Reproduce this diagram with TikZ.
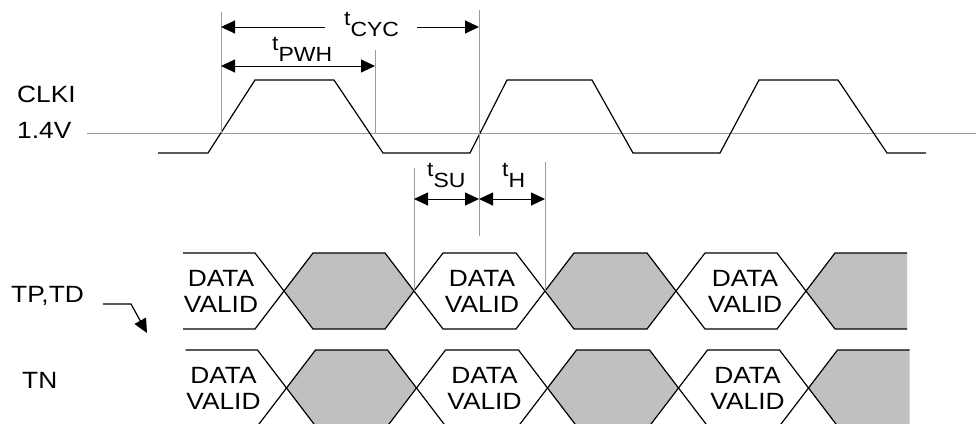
\documentclass[tikz,border=0pt]{standalone}
\usepackage{fontspec}
\setmainfont[FakeStretch=1.12]{Liberation Sans}
\usepackage{tikz}
\usetikzlibrary{arrows.meta}

\definecolor{guidegray}{RGB}{155,155,155}
\definecolor{busgray}{RGB}{192,192,192}

\tikzset{
    wave/.style={line width=1.2pt, black},
    guide/.style={line width=1pt, guidegray},
    dim/.style={line width=1pt, {Triangle[length=14pt,width=13pt]}-{Triangle[length=14pt,width=13pt]}},
    halfdim/.style={line width=1pt, -{Triangle[length=14pt,width=13pt]}},
    signame/.style={anchor=base west, inner sep=0, font=\fontsize{23.5}{26}\selectfont},
    tlabel/.style={anchor=base west, inner sep=0, font=\fontsize{20.5}{21}\selectfont},
    validtext/.style={align=center, inner sep=0, font=\fontsize{23.5}{26}\selectfont}
}

\newcommand{\tsub}[1]{t\raisebox{-11pt}{#1}}

% one bus row: #1 middle y, #2 x shift, #3 name prefix
\newcommand{\datarow}[3]{
    \begin{scope}[shift={(#2,#1)}]
        \fill[busgray] (284,0) -- (313,-38) -- (385,-38) -- (414,0) -- (385,38) -- (313,38) -- cycle;
        \fill[busgray] (545,0) -- (574,-38) -- (647,-38) -- (676,0) -- (647,38) -- (574,38) -- cycle;
        \fill[busgray] (806,0) -- (835,-38) -- (907,-38) -- (907,38) -- (835,38) -- cycle;
        \draw[wave] (183,-38) -- (255,-38) -- (313,38) -- (385,38) -- (443,-38) -- (516,-38) -- (574,38)
            -- (647,38) -- (705,-38) -- (777,-38) -- (835,38) -- (907,38);
        \draw[wave] (183,38) -- (255,38) -- (313,-38) -- (385,-38) -- (443,38) -- (516,38) -- (574,-38)
            -- (647,-38) -- (705,38) -- (777,38) -- (835,-38) -- (907,-38);
        \coordinate (#3x1) at (414,0);
        \coordinate (#3x2) at (545,0);
        \node[validtext] (#3a) at (221,0) {DATA\\VALID};
        \node[validtext] (#3b) at (482,0) {DATA\\VALID};
        \node[validtext] (#3c) at (745,0) {DATA\\VALID};
    \end{scope}
}

\begin{document}
\begin{tikzpicture}[x=1pt,y=-1pt]
    \useasboundingbox (0,0) rectangle (976,423);

    % signal names
    \node[signame] (clkiname) at (17,102) {CLKI};
    \node[signame] (voltname) at (17,138) {1.4V};
    \node[signame] (tptdname) at (11,302) {TP,TD};
    \node[signame] (tnname) at (22,388) {TN};

    % threshold and clock
    \coordinate (thrstart) at (87,133);
    \coordinate (thrend) at (976,133);
    \draw[guide] (thrstart) -- (thrend);
    \draw[wave] (158,153) -- (208,153) -- (255,80) -- (334,80) -- (383,153) -- (470,153) -- (507,80)
        -- (592,80) -- (633,153) -- (720,153) -- (759,80) -- (838,80) -- (887,153) -- (926,153);

    % data buses
    \datarow{291}{0}{tpbus}
    \datarow{388}{2.5}{tnbus}

    % guide lines
    \coordinate (rise1) at (221,133);
    \coordinate (fall1) at (375,133);
    \coordinate (rise2) at (479,133);
    \coordinate (rise1top) at (221,12);
    \coordinate (fall1top) at (375,50);
    \coordinate (rise2top) at (479,10);
    \coordinate (rise2end) at (479,236);
    \coordinate (sutop) at (414,168);
    \coordinate (holdtop) at (545,162);
    \draw[guide] (rise1top) -- (rise1);
    \draw[guide] (fall1top) -- (fall1);
    \draw[guide] (rise2top) -- (rise2end);
    \draw[guide] (sutop) -- (tpbusx1);
    \draw[guide] (holdtop) -- (tpbusx2);

    % timing marks
    \node[tlabel] (cyc) at (344,25) {\tsub{CYC}};
    \draw[halfdim] (325,27) -- (rise1 |- 0,27);
    \draw[halfdim] (417,27) -- (rise2 |- 0,27);
    \node[tlabel] (pwh) at (272,50) {\tsub{PWH}};
    \draw[dim] (rise1 |- 0,66) -- (fall1 |- 0,66);
    \node[tlabel] (su) at (427,176) {\tsub{SU}};
    \node[tlabel] (hold) at (502,176) {\tsub{H}};
    \draw[dim] (sutop |- 0,199) -- (rise2 |- 0,199);
    \draw[dim] (rise2 |- 0,199) -- (holdtop |- 0,199);

    % pointer to the TP,TD bus
    \draw[wave, -{Triangle[length=14pt,width=13pt]}] (103,304) -- (131,304) -- (147,333);

\end{tikzpicture}
\end{document}
